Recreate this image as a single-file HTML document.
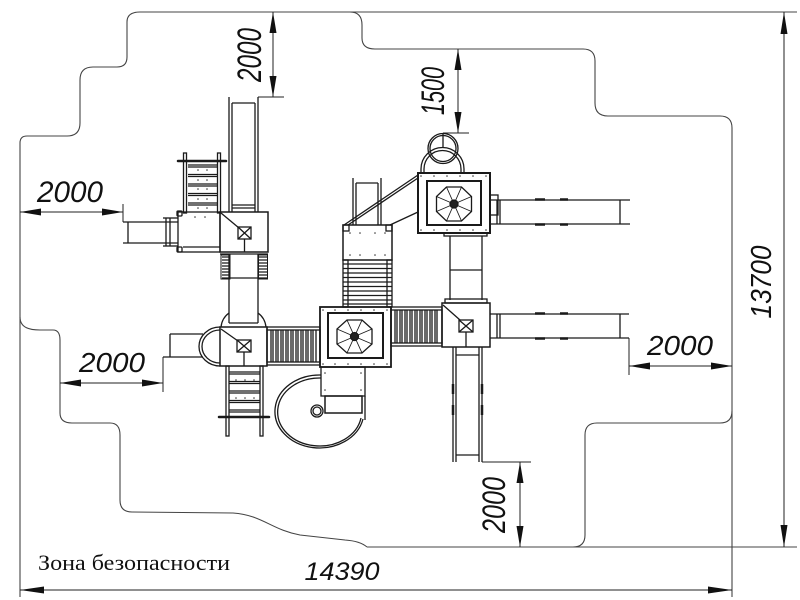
<!DOCTYPE html>
<html><head><meta charset="utf-8"><style>
html,body{margin:0;padding:0;background:#fff}
svg{display:block}
.t{font-family:"Liberation Sans",sans-serif;font-style:italic;fill:#111}
</style></head><body>
<svg width="800" height="600" viewBox="0 0 800 600" xmlns="http://www.w3.org/2000/svg">
<rect width="800" height="600" fill="#fff"/>

<!-- safety zone outline -->
<g fill="none" stroke="#444" stroke-width="1.1">
<path d="M20,597 L20,143 Q20,136 27,136 L67,136 Q80,136 80,123 L80,80 Q80,67 93,67 L117,67 Q127,67 127,57 L127,22 Q127,12 140,12 L350,12 Q362,12 362,25 L362,38 Q362,49 375,49 L583,49 Q595,49 595,61 L595,103 Q595,116 608,116 L720,116 Q732,116 732,128 L732,597"/>
<path d="M350,12 L797,12"/>
<path d="M732,411 Q732,423 720,423 L597,423 Q585,423 585,435 L585,535 Q585,547 573,547"/>
<path d="M367,547 L797,547"/>
<path d="M20,317 C20,328 30,330 40,330 L53,330 Q60,330 60,340 L60,413 Q60,423 72,423 L110,423 Q120,423 120,435 L120,500 Q120,512 132,512 L233,513 C262,515 272,530 300,535 L345,540 Q360,541 367,547"/>
</g>

<!-- dimension lines -->
<g stroke="#222" stroke-width="1" fill="none">
<line x1="20" y1="590" x2="732" y2="590"/>
<line x1="784" y1="12" x2="784" y2="547"/>
<line x1="273" y1="12" x2="273" y2="97"/>
<line x1="258" y1="97" x2="284" y2="97"/>
<line x1="20" y1="212" x2="123" y2="212"/>
<line x1="123" y1="204" x2="123" y2="222"/>
<line x1="60" y1="383" x2="163" y2="383"/>
<line x1="163" y1="357" x2="163" y2="392"/>
<line x1="458" y1="49" x2="458" y2="133"/>
<line x1="443" y1="133" x2="469" y2="133"/>
<line x1="629" y1="366" x2="732" y2="366"/>
<line x1="629" y1="338" x2="629" y2="375"/>
<line x1="520" y1="462" x2="520" y2="547"/>
<line x1="482" y1="462" x2="531" y2="462"/>
</g>
<g fill="#111">
<polygon points="20,590 44,586.5 44,593.5"/>
<polygon points="732,590 708,586.5 708,593.5"/>
<polygon points="784,12 780.5,34 787.5,34"/>
<polygon points="784,547 780.5,525 787.5,525"/>
<polygon points="273,12 269.5,33 276.5,33"/>
<polygon points="273,97 269.5,76 276.5,76"/>
<polygon points="20,212 41,208.5 41,215.5"/>
<polygon points="123,212 102,208.5 102,215.5"/>
<polygon points="60,383 81,379.5 81,386.5"/>
<polygon points="163,383 142,379.5 142,386.5"/>
<polygon points="458,49 454.5,70 461.5,70"/>
<polygon points="458,133 454.5,112 461.5,112"/>
<polygon points="629,366 650,362.5 650,369.5"/>
<polygon points="732,366 711,362.5 711,369.5"/>
<polygon points="520,462 516.5,483 523.5,483"/>
<polygon points="520,547 516.5,526 523.5,526"/>
</g>

<!-- dimension texts -->
<text class="t" x="342" y="580" font-size="25" text-anchor="middle" textLength="75" lengthAdjust="spacingAndGlyphs">14390</text>
<text class="t" transform="translate(761,282) rotate(-90)" x="0" y="10" font-size="29" text-anchor="middle" textLength="73" lengthAdjust="spacingAndGlyphs">13700</text>
<text class="t" transform="translate(249,55) rotate(-90)" x="0" y="12" font-size="34" text-anchor="middle" textLength="54" lengthAdjust="spacingAndGlyphs">2000</text>
<text class="t" transform="translate(433,91) rotate(-90)" x="0" y="11" font-size="32" text-anchor="middle" textLength="48" lengthAdjust="spacingAndGlyphs">1500</text>
<text class="t" transform="translate(495,505) rotate(-90)" x="0" y="10" font-size="32" text-anchor="middle" textLength="56" lengthAdjust="spacingAndGlyphs">2000</text>
<text class="t" x="70" y="202" font-size="30" text-anchor="middle" textLength="66" lengthAdjust="spacingAndGlyphs">2000</text>
<text class="t" x="112" y="372" font-size="28" text-anchor="middle" textLength="66" lengthAdjust="spacingAndGlyphs">2000</text>
<text class="t" x="680" y="355" font-size="28" text-anchor="middle" textLength="66" lengthAdjust="spacingAndGlyphs">2000</text>
<text x="38" y="570" font-family="'Liberation Serif',serif" font-size="22" fill="#111" textLength="192" lengthAdjust="spacingAndGlyphs">Зона безопасности</text>

<!-- ===== structure ===== -->
<g fill="none" stroke="#1a1a1a" stroke-width="1.3">

<!-- top-left slide -->
<line x1="229" y1="97" x2="229" y2="212"/>
<line x1="232" y1="103" x2="232" y2="212"/>
<line x1="258" y1="97" x2="258" y2="212"/>
<line x1="255" y1="103" x2="255" y2="212"/>
<line x1="232" y1="103" x2="255" y2="103"/>
<line x1="232" y1="205" x2="255" y2="205"/>
<line x1="232" y1="208" x2="255" y2="208"/>

<!-- ladder above left panel -->
<rect x="183.5" y="153" width="3" height="60"/>
<rect x="217.5" y="153" width="3" height="60"/>
<line x1="178" y1="161" x2="226" y2="161" stroke-width="2.5" stroke-linecap="round"/>
<path d="M188,165h29M188,167h29M188,174.5h29M188,176.5h29M188,184h29M188,186h29M188,193.5h29M188,195.5h29M188,203h29M188,205h29"/>

<!-- left panel -->
<rect x="178" y="212" width="42" height="40"/>
<line x1="183" y1="247" x2="220" y2="247"/>
<rect x="177" y="211" width="5" height="5" rx="1"/>
<rect x="177" y="247" width="5" height="5" rx="1"/>

<!-- left slide from panel -->
<line x1="123" y1="222" x2="178" y2="222"/>
<line x1="123" y1="243" x2="178" y2="243"/>
<line x1="128" y1="222" x2="128" y2="243"/>
<line x1="166" y1="218" x2="166" y2="246"/>
<line x1="170" y1="218" x2="170" y2="246"/>
<line x1="163" y1="218" x2="178" y2="218"/>
<line x1="163" y1="246" x2="178" y2="246"/>

<!-- deck 1 -->
<rect x="220" y="212" width="48" height="40" stroke-width="1.5"/>
<line x1="221" y1="213" x2="239" y2="228"/>
<rect x="238" y="227" width="13" height="12"/>
<path d="M238,227L251,239M251,227L238,239"/>
<line x1="244.5" y1="239" x2="244.5" y2="252"/>
<line x1="220" y1="254" x2="268" y2="254"/>
<path d="M222,257h7M222,260h7M222,263h7M222,266h7M222,269h7M222,272h7M222,275h7M222,278h7"/>
<path d="M259,257h8M259,260h8M259,263h8M259,266h8M259,269h8M259,272h8M259,275h8M259,278h8"/>
<rect x="221" y="255" width="9" height="24" stroke-width="1"/>
<rect x="258.5" y="255" width="9" height="24" stroke-width="1"/>

<!-- tube deck1->deck2 -->
<line x1="229" y1="254" x2="229" y2="323"/>
<line x1="258" y1="254" x2="258" y2="323"/>
<line x1="229" y1="278" x2="258" y2="278"/>
<line x1="229" y1="323" x2="258" y2="323"/>
<path d="M229,313 Q222,318 221,327"/>
<path d="M258,313 Q265,318 266,327"/>

<!-- deck 2 -->
<rect x="220" y="327" width="47" height="39" stroke-width="1.5"/>
<line x1="221" y1="329" x2="238" y2="341"/>
<rect x="237" y="340" width="14" height="12"/>
<path d="M237,340L251,352M251,340L237,352"/>
<line x1="244" y1="352" x2="244" y2="366"/>
<path d="M220,327 A21,19.5 0 0 0 220,366"/>
<path d="M220,330 A18,16.5 0 0 0 220,363"/>

<!-- left slide from deck2 -->
<line x1="170" y1="334" x2="203" y2="334"/>
<line x1="163" y1="357" x2="203" y2="357"/>
<line x1="170" y1="334" x2="170" y2="357"/>

<!-- ladder below deck2 -->
<rect x="226" y="366" width="3" height="70"/>
<rect x="260" y="366" width="3" height="70"/>
<line x1="219" y1="417" x2="269" y2="417" stroke-width="2.5" stroke-linecap="round"/>
<path d="M229,372h31M229,374h31M229,381.5h31M229,383.5h31M229,391h31M229,393h31M229,400.5h31M229,402.5h31M229,410h31M229,412h31"/>

<!-- bridge deck2 -> deck3 -->
<rect x="267" y="327" width="53" height="38"/>
<rect x="267" y="330" width="53" height="32"/>
<path d="M271,330v32M273,330v32M276,330v32M278,330v32M281,330v32M283,330v32M286,330v32M288,330v32M291,330v32M293,330v32M296,330v32M298,330v32M301,330v32M303,330v32M306,330v32M308,330v32M311,330v32M313,330v32M316,330v32"/>

<!-- deck 3 -->
<rect x="320" y="307" width="71" height="60" stroke-width="1.8"/>
<rect x="328" y="313" width="55" height="45" stroke-width="2"/>
<polygon points="372,329 372,344 362,353 347,353 337,344 337,329 347,320 362,320"/>
<path d="M354.5,336.5L372,329M354.5,336.5L372,344M354.5,336.5L362,353M354.5,336.5L347,353M354.5,336.5L337,344M354.5,336.5L337,329M354.5,336.5L347,320M354.5,336.5L362,320" stroke-width="0.9"/>
<circle cx="354.5" cy="336.5" r="4" fill="#222"/>

<!-- deck 5 + short slide + ladder -->
<line x1="353" y1="178" x2="353" y2="225"/>
<line x1="356" y1="183" x2="356" y2="225"/>
<line x1="381" y1="178" x2="381" y2="225"/>
<line x1="378" y1="183" x2="378" y2="225"/>
<line x1="356" y1="183" x2="378" y2="183"/>
<rect x="343" y="225" width="49" height="35" stroke-width="1.5"/>
<rect x="343" y="225" width="6" height="6"/>
<rect x="386" y="225" width="6" height="6"/>
<rect x="343" y="260" width="5" height="47"/>
<rect x="387" y="260" width="5" height="47"/>
<path d="M343,264h49M343,268.5h49M343,273h49M343,277.5h49M343,282h49M343,286.5h49M343,291h49M343,295.5h49M343,300h49M343,304h49"/>

<!-- diagonal slide deck4->deck5 -->
<line x1="418" y1="175" x2="344" y2="225"/>
<line x1="418" y1="178" x2="348" y2="225"/>
<line x1="418" y1="212" x2="390" y2="225"/>

<!-- deck 4 -->
<rect x="418" y="173" width="72" height="60" stroke-width="2"/>
<rect x="427" y="181" width="54" height="44" stroke-width="2"/>
<polygon points="471.5,196.5 471.5,211.5 461.5,221 446.5,221 436.5,211.5 436.5,196.5 446.5,187 461.5,187"/>
<path d="M454,204L471.5,196.5M454,204L471.5,211.5M454,204L461.5,221M454,204L446.5,221M454,204L436.5,211.5M454,204L436.5,196.5M454,204L446.5,187M454,204L461.5,187" stroke-width="0.9"/>
<circle cx="454" cy="204" r="4" fill="#222"/>
<rect x="490" y="195" width="8" height="20"/>

<!-- arches above deck4 -->
<circle cx="443" cy="148.5" r="15"/>
<circle cx="443" cy="148.5" r="13"/>
<line x1="443" y1="134" x2="443" y2="148"/>
<path d="M421,173 L421,169 A21.5,21.5 0 0 1 464,169 L464,173"/>
<path d="M424,173 L424,169 A18.5,18.5 0 0 1 461,169 L461,173"/>

<!-- tube deck4 -> deck6 -->
<rect x="444" y="233" width="43" height="3"/>
<line x1="450" y1="236" x2="450" y2="300"/>
<line x1="482" y1="236" x2="482" y2="300"/>
<line x1="450" y1="270" x2="482" y2="270"/>
<rect x="445" y="299" width="42" height="4"/>

<!-- right slide from deck4 -->
<line x1="491" y1="200" x2="630" y2="200"/>
<line x1="491" y1="224" x2="630" y2="224"/>
<line x1="497" y1="200" x2="497" y2="224"/>
<line x1="500" y1="200" x2="500" y2="224"/>
<line x1="620" y1="200" x2="620" y2="224"/>
<path d="M535,199.5h10M560,199.5h8M535,224.5h10M560,224.5h8" stroke-width="2.5"/>

<!-- deck 6 -->
<rect x="442" y="303" width="48" height="44" stroke-width="1.5"/>
<line x1="443" y1="305" x2="460" y2="320"/>
<rect x="459" y="320" width="14" height="12"/>
<path d="M459,320L473,332M473,320L459,332"/>
<line x1="466" y1="332" x2="466" y2="347"/>

<!-- bridge deck3 -> deck6 -->
<rect x="391" y="307" width="51" height="39"/>
<rect x="391" y="310" width="51" height="33"/>
<path d="M395,310v33M397,310v33M400,310v33M402,310v33M405,310v33M407,310v33M410,310v33M412,310v33M415,310v33M417,310v33M420,310v33M422,310v33M425,310v33M427,310v33M430,310v33M432,310v33M435,310v33M437,310v33"/>

<!-- right slide from deck6 -->
<line x1="490" y1="314" x2="629" y2="314"/>
<line x1="490" y1="338" x2="629" y2="338"/>
<line x1="497" y1="314" x2="497" y2="338"/>
<line x1="500" y1="314" x2="500" y2="338"/>
<line x1="620" y1="314" x2="620" y2="338"/>
<path d="M535,313.5h10M560,313.5h8M535,338.5h10M560,338.5h8" stroke-width="2.5"/>

<!-- down slide from deck6 -->
<line x1="453" y1="347" x2="453" y2="462"/>
<line x1="456" y1="347" x2="456" y2="462"/>
<line x1="482" y1="347" x2="482" y2="462"/>
<line x1="479" y1="347" x2="479" y2="462"/>
<line x1="456" y1="355" x2="479" y2="355"/>
<line x1="456" y1="455" x2="479" y2="455"/>
<path d="M453,384v10M453,405v10M482,384v10M482,405v10" stroke-width="2.5"/>

<!-- spiral slide under deck3 -->
<rect x="321" y="367" width="44" height="29"/>
<rect x="325" y="396" width="37" height="17" stroke-width="1.5"/>
<line x1="365" y1="396" x2="365" y2="420"/>
<path d="M321,375 A44.5,36.5 0 1 0 363,419"/>
<path d="M321,378 A42,34 0 1 0 361,418"/>
<circle cx="317" cy="411" r="6"/>
<circle cx="317" cy="411" r="4"/>
</g>

<!-- small dots -->
<g fill="#333">
<circle cx="198" cy="170" r="0.8"/><circle cx="207" cy="170" r="0.8"/>
<circle cx="198" cy="180" r="0.8"/><circle cx="207" cy="180" r="0.8"/>
<circle cx="198" cy="189" r="0.8"/><circle cx="207" cy="189" r="0.8"/>
<circle cx="198" cy="199" r="0.8"/><circle cx="207" cy="199" r="0.8"/>
<circle cx="198" cy="208" r="0.8"/><circle cx="207" cy="208" r="0.8"/>
<circle cx="195" cy="217" r="0.8"/><circle cx="205" cy="217" r="0.8"/>
<circle cx="350" cy="233" r="0.8"/><circle cx="360" cy="233" r="0.8"/><circle cx="375" cy="233" r="0.8"/><circle cx="385" cy="233" r="0.8"/>
<circle cx="350" cy="255" r="0.8"/><circle cx="360" cy="255" r="0.8"/><circle cx="375" cy="255" r="0.8"/><circle cx="385" cy="255" r="0.8"/>
<circle cx="323" cy="310" r="0.8"/><circle cx="335" cy="310" r="0.8"/><circle cx="348" cy="310" r="0.8"/><circle cx="361" cy="310" r="0.8"/><circle cx="374" cy="310" r="0.8"/><circle cx="387" cy="310" r="0.8"/>
<circle cx="323" cy="364" r="0.8"/><circle cx="335" cy="364" r="0.8"/><circle cx="348" cy="364" r="0.8"/><circle cx="361" cy="364" r="0.8"/><circle cx="374" cy="364" r="0.8"/><circle cx="387" cy="364" r="0.8"/>
<circle cx="421" cy="176" r="0.8"/><circle cx="434" cy="176" r="0.8"/><circle cx="447" cy="176" r="0.8"/><circle cx="460" cy="176" r="0.8"/><circle cx="473" cy="176" r="0.8"/><circle cx="486" cy="176" r="0.8"/>
<circle cx="421" cy="230" r="0.8"/><circle cx="434" cy="230" r="0.8"/><circle cx="447" cy="230" r="0.8"/><circle cx="460" cy="230" r="0.8"/><circle cx="473" cy="230" r="0.8"/><circle cx="486" cy="230" r="0.8"/>
<circle cx="236" cy="380" r="0.8"/><circle cx="245" cy="380" r="0.8"/><circle cx="254" cy="380" r="0.8"/>
<circle cx="236" cy="398" r="0.8"/><circle cx="245" cy="398" r="0.8"/><circle cx="254" cy="398" r="0.8"/>
<circle cx="325" cy="373" r="0.8"/><circle cx="361" cy="373" r="0.8"/><circle cx="325" cy="390" r="0.8"/><circle cx="361" cy="390" r="0.8"/>
</g>
</svg>
</body></html>
